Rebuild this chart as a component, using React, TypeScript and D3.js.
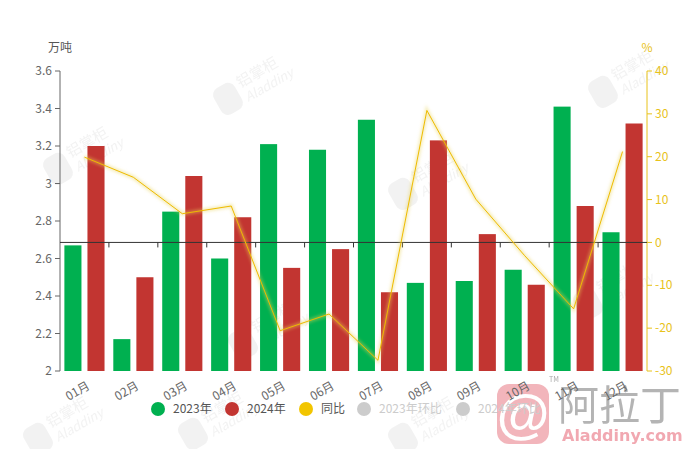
import * as d3 from 'd3'
import React from 'react'

const months = ['01月', '02月', '03月', '04月', '05月', '06月', '07月', '08月', '09月', '10月', '11月', '12月']
const v2023 = [2.67, 2.17, 2.85, 2.60, 3.21, 3.18, 3.34, 2.47, 2.48, 2.54, 3.41, 2.74]
const v2024 = [3.20, 2.50, 3.04, 2.82, 2.55, 2.65, 2.42, 3.23, 2.73, 2.46, 2.88, 3.32]
const yoy = [19.9, 15.2, 6.7, 8.5, -20.6, -16.7, -27.5, 30.8, 10.1, -3.1, -15.5, 21.2]
const leftTicks = [2, 2.2, 2.4, 2.6, 2.8, 3, 3.2, 3.4, 3.6]
const rightTicks = [-30, -20, -10, 0, 10, 20, 30, 40]
const legend = [
  { name: '2023年', color: '#00b050', on: true },
  { name: '2024年', color: '#c23531', on: true },
  { name: '同比', color: '#f2c500', on: true },
  { name: '2023年环比', color: '#cccccc', on: false },
  { name: '2024年环比', color: '#cccccc', on: false },
]
const marks = [[250, 85], [80, 155], [425, 180], [625, 78], [610, 290], [265, 330], [60, 425], [425, 425], [215, 420]]

const W = 695, H = 449
const m = { l: 60, r: 647, t: 71, b: 371 }
const font = '"Microsoft YaHei", "Noto Sans CJK SC", sans-serif'

export default function App() {
  const
    x = d3.scaleBand<string>().domain(months).range([m.l, m.r]),
    sub = d3.scaleBand<string>().domain(['a', 'b']).range([0, x.bandwidth()]).paddingInner(0.26).paddingOuter(0.19),
    yl = d3.scaleLinear().domain([2, 3.6]).range([m.b, m.t]),
    yr = d3.scaleLinear().domain([-30, 40]).range([m.b, m.t]),
    line = d3.line<number>().x((_, i) => x(months[i])! + x.bandwidth() / 2).y(d => yr(d))(yoy) as string,
    zero = yr(0),
    legX = [158, 232, 306, 364, 463]

  return (
    <svg width={W} height={H} style={{ position: 'absolute', left: 0, top: 0, fontFamily: font }}>
      <defs>
        <filter id='glow' x='-10%' y='-10%' width='120%' height='120%'>
          <feGaussianBlur stdDeviation='1.5' />
        </filter>
      </defs>
      <rect width={W} height={H} fill='#fff' />
      {/* watermarks */}
      {marks.map(([mx, my], i) => (
        <g key={i} transform={`translate(${mx},${my}) rotate(-30)`} opacity={0.45}>
          <rect x={-38} y={-14} width={24} height={30} rx={8} fill='#e3e3e3' />
          <text x={-10} y={-2} fontSize={15} fill='#e3e3e3'>铝掌柜</text>
          <text x={-10} y={14} fontSize={13} fontStyle='italic' fill='#e3e3e3'>Aladdiny</text>
        </g>
      ))}
      {/* big logo (background) */}
      <g opacity={0.85}>
        <rect x={497} y={384} width={52} height={60} rx={12} fill='#f0a9b0' />
        <text x={523} y={432} textAnchor='middle' fontSize={54} fontWeight='bold' fill='#fff' fontFamily='Arial, sans-serif'>@</text>
        <text x={549} y={382} fontSize={7} fill='#999'>TM</text>
        <text x={558} y={420} fontSize={41} fill='#a8a8a8' fontFamily='"Noto Sans CJK SC", serif'>阿拉丁</text>
        <text x={562} y={441} fontSize={16} fontWeight='bold' fill='#ef9aa4' fontFamily='"DejaVu Sans", sans-serif'>Aladdiny.com</text>
      </g>
      {/* left axis */}
      <line x1={m.l} x2={m.l} y1={m.t} y2={m.b} stroke='#666' />
      {leftTicks.map(t => (
        <g key={t}>
          <line x1={m.l - 5} x2={m.l} y1={yl(t)} y2={yl(t)} stroke='#666' />
          <text x={m.l - 8} y={yl(t)} dy='0.35em' textAnchor='end' fontSize={12} fill='#666'>{t}</text>
        </g>
      ))}
      <text x={m.l} y={52} textAnchor='middle' fontSize={12} fill='#555'>万吨</text>
      {/* right axis */}
      <line x1={m.r} x2={m.r} y1={m.t} y2={m.b} stroke='#e8c21a' />
      {rightTicks.map(t => (
        <g key={t}>
          <line x1={m.r} x2={m.r + 5} y1={yr(t)} y2={yr(t)} stroke='#e8c21a' />
          <text x={m.r + 8} y={yr(t)} dy='0.35em' fontSize={12} fill='#e8c21a'>{t}</text>
        </g>
      ))}
      <text x={m.r} y={52} textAnchor='middle' fontSize={12} fill='#e8c21a'>%</text>
      {/* bars */}
      {months.map((mo, i) => (
        <g key={mo} transform={`translate(${x(mo)},0)`}>
          <rect x={sub('a')} y={yl(v2023[i])} width={sub.bandwidth()} height={m.b - yl(v2023[i])} fill='#00b050' />
          <rect x={sub('b')} y={yl(v2024[i])} width={sub.bandwidth()} height={m.b - yl(v2024[i])} fill='#c23531' />
        </g>
      ))}
      {/* x axis on zero */}
      <line x1={m.l} x2={m.r} y1={zero} y2={zero} stroke='#333' />
      {months.map((mo, i) => i > 0 && (
        <line key={mo} x1={x(mo)} x2={x(mo)} y1={zero} y2={zero + 5} stroke='#333' />
      ))}
      {months.map(mo => (
        <text key={mo} transform={`translate(${x(mo)! + x.bandwidth() / 2 + 2},${m.b + 10}) rotate(-30)`}
          textAnchor='end' dy='0.7em' fontSize={12} fill='#666'>{mo}</text>
      ))}
      {/* yoy line */}
      <path d={line} fill='none' stroke='rgba(232,210,90,0.4)' strokeWidth={4} filter='url(#glow)' />
      <path d={line} fill='none' stroke='#eebb00' strokeWidth={1} />
      {/* legend */}
      {legend.map((d, i) => (
        <g key={d.name} transform={`translate(${legX[i]},409)`}>
          <circle r={7} fill={d.color} />
          <text x={15} dy='0.35em' fontSize={12} fill={d.on ? '#555' : '#ccc'}>{d.name}</text>
        </g>
      ))}
    </svg>
  )
}
